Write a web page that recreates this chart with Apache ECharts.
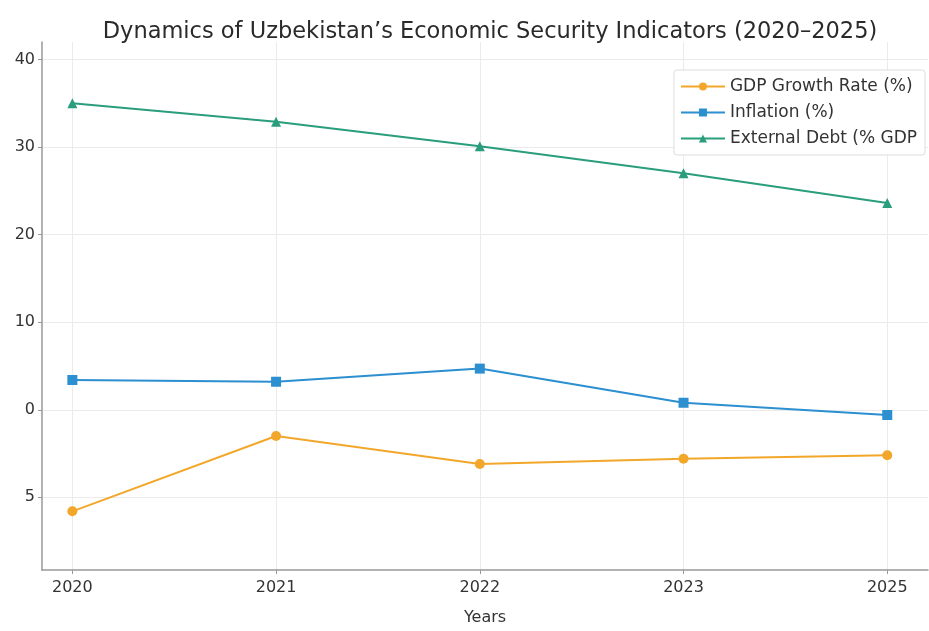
<!DOCTYPE html>
<html>
<head>
<meta charset="utf-8">
<script src="https://cdn.jsdelivr.net/npm/echarts@6/dist/echarts.min.js"></script>
<style>
html,body{margin:0;padding:0;background:#fff;}
#chart{width:929px;height:631px;}
</style>
</head>
<body>
<div id="chart"></div>
<script>
const years = ['2020', '2021', '2022', '2023', '2025'];
const gdpGrowth = [-11.6, -3.0, -6.2, -5.6, -5.2];
const inflation = [3.4, 3.2, 4.7, 0.8, -0.6];
const externalDebt = [35.0, 32.9, 30.1, 27.0, 23.6];
const yTickValues = [-10, 0, 10, 20, 30, 40];
const yTickLabels = ['5', '0', '10', '20', '30', '40'];
const seriesNames = ['GDP Growth Rate (%)', 'Inflation (%)', 'External Debt (% GDP'];

const xIdx = years.map((_, i) => i);
const pairs = arr => arr.map((v, i) => [i, v]);
const font = 'DejaVu Sans';

const chart = echarts.init(document.getElementById('chart'), null, {renderer: 'canvas'});
chart.setOption({
  animation: false,
  backgroundColor: '#ffffff',
  title: {
    text: 'Dynamics of Uzbekistan\u2019s Economic Security Indicators (2020\u20132025)',
    left: 485, top: 16, textAlign: 'center',
    textStyle: {fontFamily: font, fontSize: 22.5, fontWeight: 'normal', color: '#2a2a2a'}
  },
  grid: {left: 42, right: 1, top: 42, bottom: 57, containLabel: false},
  legend: {
    right: 4, top: 70,
    orient: 'vertical',
    itemWidth: 44, itemHeight: 10, itemGap: 9,
    padding: [8, 8, 8, 6],
    borderColor: '#dddddd', borderWidth: 1, borderRadius: 3,
    backgroundColor: '#fff',
    textStyle: {fontFamily: font, fontSize: 17, color: '#333'},
    data: seriesNames
  },
  xAxis: {
    type: 'value',
    min: -0.149, max: 4.2,
    name: 'Years', nameLocation: 'middle', nameGap: 40,
    nameTextStyle: {fontFamily: font, fontSize: 16, color: '#333'},
    axisLine: {show: true, onZero: false, lineStyle: {color: '#999', width: 1.5}},
    axisTick: {show: true, length: 4, customValues: xIdx, lineStyle: {color: '#999'}},
    axisLabel: {customValues: xIdx, fontFamily: font, fontSize: 16, color: '#333', margin: 10,
      formatter: v => years[Math.round(v)]},
    splitLine: {show: true, lineStyle: {color: '#ebebeb', width: 1}}
  },
  yAxis: {
    type: 'value',
    min: -18.3, max: 42,
    axisLine: {show: true, onZero: false, lineStyle: {color: '#999', width: 1.5}},
    axisTick: {show: true, length: 4, customValues: yTickValues, lineStyle: {color: '#999'}},
    axisLabel: {customValues: yTickValues, fontFamily: font, fontSize: 16, color: '#333', margin: 7,
      formatter: v => yTickLabels[yTickValues.indexOf(Math.round(v))]},
    splitLine: {show: true, lineStyle: {color: '#ebebeb', width: 1}}
  },
  series: [
    {name: seriesNames[0], type: 'line', data: pairs(gdpGrowth), symbol: 'circle', symbolSize: 10,
      itemStyle: {color: '#f2a72b'}, lineStyle: {width: 2, color: '#f2a72b'}},
    {name: seriesNames[1], type: 'line', data: pairs(inflation), symbol: 'rect', symbolSize: 10,
      itemStyle: {color: '#2b8fd0'}, lineStyle: {width: 2, color: '#2b8fd0'}},
    {name: seriesNames[2], type: 'line', data: pairs(externalDebt), symbol: 'triangle', symbolSize: 10,
      itemStyle: {color: '#2a9d7c'}, lineStyle: {width: 2, color: '#2a9d7c'}}
  ]
});
</script>
</body>
</html>
